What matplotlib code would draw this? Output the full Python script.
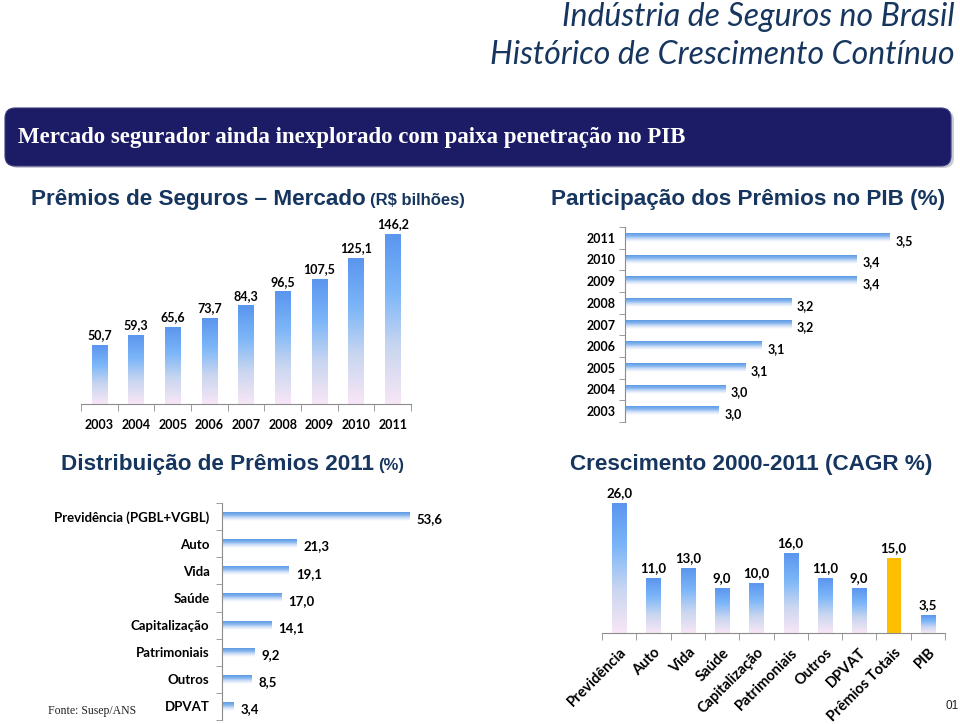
import numpy as np
import matplotlib.pyplot as plt
from matplotlib.colors import LinearSegmentedColormap
from matplotlib.patches import FancyBboxPatch

# Dados do slide
anos = ['2003', '2004', '2005', '2006', '2007', '2008', '2009', '2010', '2011']
premios = [50.7, 59.3, 65.6, 73.7, 84.3, 96.5, 107.5, 125.1, 146.2]  # R$ bilhões
pib_part = [2.98, 3.00, 3.06, 3.11, 3.20, 3.20, 3.40, 3.40, 3.50]  # % do PIB

ramos = ['Previdência (PGBL+VGBL)', 'Auto', 'Vida', 'Saúde', 'Capitalização',
         'Patrimoniais', 'Outros', 'DPVAT']
distrib = [53.6, 21.3, 19.1, 17.0, 14.1, 9.2, 8.5, 3.4]

ramos_cagr = ['Previdência', 'Auto', 'Vida', 'Saúde', 'Capitalização', 'Patrimoniais',
              'Outros', 'DPVAT', 'Prêmios Totais', 'PIB']
cagr = [26.0, 11.0, 13.0, 9.0, 10.0, 16.0, 11.0, 9.0, 15.0, 3.5]

W, H = 960, 724
AZUL_TIT = '#17365f'
CINZA = '#8c8c8c'
NUM = 'Lato'

cmap_v = LinearSegmentedColormap.from_list('v', ['#f7e6f6', '#c9d6f0', '#7cb6f8', '#5b96ef'])
cmap_h = LinearSegmentedColormap.from_list('h', ['#ffffff', '#d4e3f8', '#86b5ee', '#5b9ae6'])


def fmt(v):
    return f'{v:.1f}'.replace('.', ',')


fig = plt.figure(figsize=(9.6, 7.24), dpi=100)


def eixo(l, t, r, b):
    a = fig.add_axes([l / W, 1 - b / H, (r - l) / W, (b - t) / H])
    a.patch.set_alpha(0)
    return a


def gradiente(ax, barras, cmap):
    g = np.linspace(0, 1, 80).reshape(-1, 1)
    for b in barras:
        x0, y0, w, h = b.get_x(), b.get_y(), b.get_width(), b.get_height()
        ax.imshow(g, cmap=cmap, origin='lower', aspect='auto',
                  extent=(x0, x0 + w, y0, y0 + h), zorder=2)


# fundo em coordenadas de pixel (títulos, faixa)
bg = fig.add_axes([0, 0, 1, 1])
bg.set_xlim(0, W)
bg.set_ylim(H, 0)
bg.axis('off')

bg.text(955, 17, 'Indústria de Seguros no Brasil', ha='right', va='center',
        fontsize=23, family='Lato', style='italic', color=AZUL_TIT)
bg.text(955, 55, 'Histórico de Crescimento Contínuo', ha='right', va='center',
        fontsize=23, family='Lato', style='italic', color=AZUL_TIT)

bg.add_patch(FancyBboxPatch((8, 110), 946, 58, boxstyle='round,pad=0,rounding_size=10',
                            fc='#9a9aa8', ec='none', alpha=0.5))
bg.add_patch(FancyBboxPatch((5, 108), 946, 58, boxstyle='round,pad=0,rounding_size=10',
                            fc='#1c1b66', ec='#3a3a80', lw=0.8))
bg.text(18, 138, 'Mercado segurador ainda inexplorado com paixa penetração no PIB',
        ha='left', va='center', fontsize=16.5, family='Liberation Serif',
        fontweight='bold', color='white')


# títulos das seções
def titulo(x, y, grande, pequeno, tam=16.2):
    bg.text(x, y, grande, ha='right', va='baseline', fontsize=tam,
            family='Liberation Sans', fontweight='bold', color=AZUL_TIT)
    bg.text(x + 4, y, pequeno, ha='left', va='baseline', fontsize=12,
            family='Liberation Sans', fontweight='bold', color=AZUL_TIT)


titulo(366, 205, 'Prêmios de Seguros – Mercado', '(R$ bilhões)')
bg.text(748, 205, 'Participação dos Prêmios no PIB (%)', ha='center', va='baseline',
        fontsize=16.2, family='Liberation Sans', fontweight='bold', color=AZUL_TIT)
titulo(374, 470, 'Distribuição de Prêmios 2011', '(%)')
bg.text(751, 470, 'Crescimento 2000-2011 (CAGR %)', ha='center', va='baseline',
        fontsize=16.2, family='Liberation Sans', fontweight='bold', color=AZUL_TIT)

bg.text(48, 711, 'Fonte: Susep/ANS', ha='left', va='center', fontsize=8.5,
        family='Liberation Serif', color='#222222')
bg.text(946, 706, '01', ha='left', va='center', fontsize=8.5,
        family='Liberation Sans', color='#222222')

# --- Prêmios de Seguros (colunas) ---
ax1 = eixo(81, 214, 411, 404)
x1 = np.arange(len(anos))
b1 = ax1.bar(x1, premios, width=0.41, color='none')
gradiente(ax1, b1, cmap_v)
ax1.set_xlim(-0.5, len(anos) - 0.5)
ax1.set_ylim(0, 163.4)
for xi, v in zip(x1, premios):
    ax1.annotate(fmt(v), (xi, v), xytext=(0, 3), textcoords='offset points',
                 ha='center', va='bottom', fontsize=9, fontweight='bold', family=NUM)

# --- Participação no PIB (barras horizontais) ---
ax2 = eixo(625, 227, 955, 422)
y2 = np.arange(len(anos))
b2 = ax2.barh(y2, pib_part, height=0.37, color='none')
gradiente(ax2, b2, cmap_h)
ax2.set_xlim(2.695, 3.698)
ax2.set_ylim(-0.5, len(anos) - 0.5)
for yi, v in zip(y2, pib_part):
    ax2.annotate(fmt(v), (v, yi), xytext=(4, -2), textcoords='offset points',
                 ha='left', va='center', fontsize=9, fontweight='bold', family=NUM)

# --- Distribuição 2011 (barras horizontais) ---
ax3 = eixo(222, 503, 420, 720)
y3 = np.arange(len(ramos))[::-1]
b3 = ax3.barh(y3, distrib, height=0.33, color='none')
gradiente(ax3, b3, cmap_h)
ax3.set_xlim(0, 56.5)
ax3.set_ylim(-0.5, len(ramos) - 0.5)
for yi, v in zip(y3, distrib):
    ax3.annotate(fmt(v), (v, yi), xytext=(5, -2), textcoords='offset points',
                 ha='left', va='center', fontsize=9.5, fontweight='bold', family=NUM)

# --- CAGR (colunas) ---
ax4 = eixo(602, 493, 945, 633)
x4 = np.arange(len(ramos_cagr))
b4 = ax4.bar(x4, cagr, width=0.41, color='none')
gradiente(ax4, [b for i, b in enumerate(b4) if i != 8], cmap_v)
b4[8].set_facecolor('#fdbf00')
b4[8].set_zorder(2)
ax4.set_xlim(-0.5, len(ramos_cagr) - 0.5)
ax4.set_ylim(0, 28)
for xi, v in zip(x4, cagr):
    ax4.annotate(fmt(v), (xi, v), xytext=(0, 3), textcoords='offset points',
                 ha='center', va='bottom', fontsize=9.5, fontweight='bold', family=NUM)

# eixos: estilo comum
for ax in (ax1, ax4):
    for s in ('top', 'left', 'right'):
        ax.spines[s].set_visible(False)
    ax.spines['bottom'].set_color(CINZA)
    ax.set_yticks([])
    n = len(ax.patches)
    ax.set_xticks(np.arange(-0.5, n), minor=True)
    ax.tick_params(axis='x', which='minor', length=5, color=CINZA, direction='out')

for ax in (ax2, ax3):
    for s in ('top', 'bottom', 'right'):
        ax.spines[s].set_visible(False)
    ax.spines['left'].set_color(CINZA)
    ax.set_xticks([])
    n = len(ax.patches)
    ax.set_yticks(np.arange(-0.5, n), minor=True)
    ax.tick_params(axis='y', which='minor', length=4, color=CINZA, direction='out')

ax1.set_xticks(x1, anos)
ax1.tick_params(axis='x', which='major', length=0, pad=11)
ax2.set_yticks(y2, anos)
ax2.tick_params(axis='y', which='major', length=0, pad=7)
ax3.set_yticks(y3, ramos)
ax3.tick_params(axis='y', which='major', length=0, pad=9)
ax4.set_xticks(x4, ramos_cagr)
ax4.tick_params(axis='x', which='major', length=0, pad=9)
for lab in ax4.get_xticklabels():
    lab.set_rotation(45)
    lab.set_ha('right')
    lab.set_rotation_mode('anchor')

for ax, tam in ((ax1, 9), (ax2, 9), (ax3, 9.5), (ax4, 10.5)):
    for lab in ax.get_xticklabels() + ax.get_yticklabels():
        lab.set_fontfamily(NUM)
        lab.set_fontweight('bold')
        lab.set_fontsize(tam)

fig.savefig('out.png', dpi=100)
